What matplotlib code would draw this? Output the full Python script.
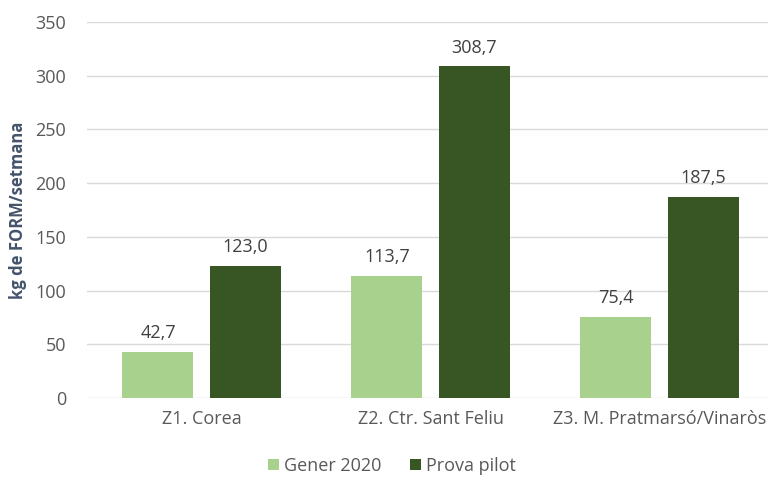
import numpy as np
import matplotlib.pyplot as plt

plt.rcParams['font.family'] = ['Open Sans', 'DejaVu Sans']

zones = ['Z1. Corea', 'Z2. Ctr. Sant Feliu', 'Z3. M. Pratmarsó/Vinaròs']
gener_2020 = [42.7, 113.7, 75.4]
prova_pilot = [123.0, 308.7, 187.5]
series_names = ['Gener 2020', 'Prova pilot']
colors = ['#A9D18E', '#375623']

fig = plt.figure(figsize=(7.68, 4.78), dpi=100)
ax = fig.add_axes([87 / 768, 1 - 398 / 478, 687 / 768, 376 / 478])

x = np.arange(len(zones))
w = 0.31
off = 0.19
b1 = ax.bar(x - off, gener_2020, w, color=colors[0], label=series_names[0], zorder=3)
b2 = ax.bar(x + off, prova_pilot, w, color=colors[1], label=series_names[1], zorder=3)

for bars in (b1, b2):
    for r in bars:
        h = r.get_height()
        ax.text(r.get_x() + r.get_width() / 2, h + 9, f'{h:.1f}'.replace('.', ','),
                ha='center', va='bottom', fontsize=13, color='#404040')

ax.set_xlim(-0.5, 2.5)
ax.set_ylim(0, 350)
ax.set_yticks(range(0, 351, 50))
ax.set_xticks(x)
ax.set_xticklabels(zones)
ax.tick_params(axis='both', length=0, labelsize=13, colors='#595959')
ax.tick_params(axis='x', pad=9)
ax.tick_params(axis='y', pad=15)
ax.grid(axis='y', color='#D9D9D9', linewidth=1, zorder=0)
for s in ax.spines.values():
    s.set_visible(False)
ax.set_ylabel('kg de FORM/setmana', fontsize=12, fontweight='bold', color='#44546A', labelpad=6)

fig.legend(loc='center', bbox_to_anchor=(392 / 768, 1 - 466 / 478), ncol=2, frameon=False,
           fontsize=13, handlelength=0.6, handleheight=0.6, handletextpad=0.3, columnspacing=1.6,
           labelcolor='#595959', borderpad=0.1)

fig.savefig('out.png', dpi=100)
